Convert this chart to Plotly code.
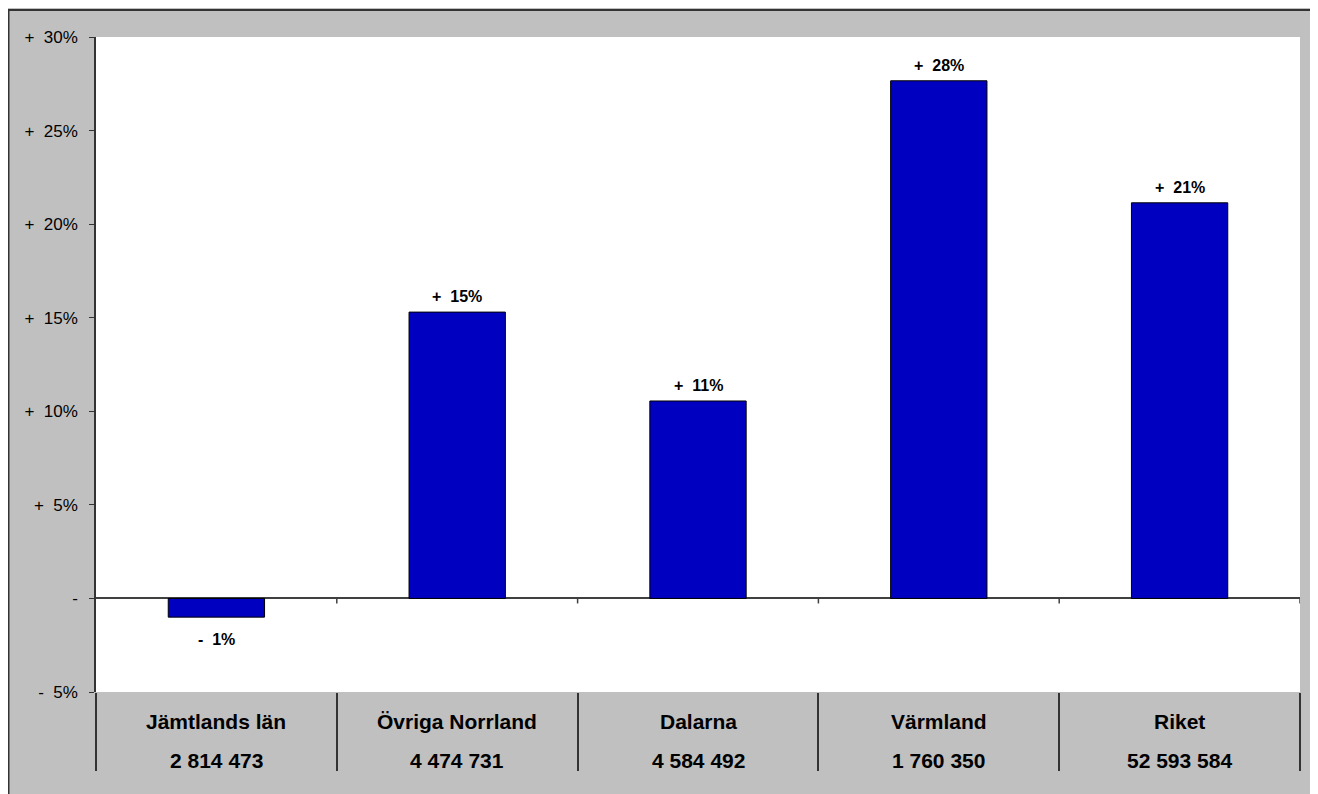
import plotly.graph_objects as go

categories = ["Jämtlands län", "Övriga Norrland", "Dalarna", "Värmland", "Riket"]
populations = ["2 814 473", "4 474 731", "4 584 492", "1 760 350", "52 593 584"]
values = [-1.0, 15.3, 10.55, 27.66, 21.14]
y_ticks = [-5, 0, 5, 10, 15, 20, 25, 30]

NB = "\u00a0"
FONT = "Liberation Sans, Arial"

def pct_label(v):
    r = round(abs(v))
    if r == 0:
        return "-"
    sign = "+" if v > 0 else "-"
    return f"{sign}{NB}{NB}{r}%"

n = len(categories)
xs = list(range(n))

fig = go.Figure()
fig.add_trace(go.Bar(
    x=xs, y=values, width=0.4,
    marker=dict(color="#0000C0", line=dict(color="#000000", width=1)),
    hoverinfo="skip",
))

annotations = []
for x, v in zip(xs, values):
    annotations.append(dict(
        x=x, y=v, xref="x", yref="y", text=f"<b>{pct_label(v)}</b>",
        showarrow=False, yanchor="bottom" if v >= 0 else "top",
        yshift=5 if v >= 0 else -12,
        font=dict(family=FONT, size=16, color="#000000"),
    ))
for x, c, p in zip(xs, categories, populations):
    annotations.append(dict(
        x=x, y=0, xref="x", yref="paper", text=f"<b>{c}</b>",
        showarrow=False, yanchor="middle", yshift=-29,
        font=dict(family=FONT, size=21, color="#000000"),
    ))
    annotations.append(dict(
        x=x, y=0, xref="x", yref="paper", text=f"<b>{p}</b>",
        showarrow=False, yanchor="middle", yshift=-68,
        font=dict(family=FONT, size=21, color="#000000"),
    ))

shapes = []
# small tick marks on the zero line at category boundaries
for i in range(1, n + 1):
    shapes.append(dict(
        type="line", xref="x", yref="y", ysizemode="pixel", yanchor=0,
        x0=i - 0.5, x1=i - 0.5, y0=0, y1=-5,
        line=dict(color="#404040", width=1.5),
    ))
# outer chart border
shapes.append(dict(
    type="rect", xref="paper", yref="paper", xsizemode="pixel", ysizemode="pixel",
    xanchor=0, yanchor=0,
    x0=-87.5, x1=1217, y0=-300, y1=682,
    line=dict(color="#333333", width=2), fillcolor="rgba(0,0,0,0)",
))

fig.update_layout(
    width=1306, height=786,
    margin=dict(l=88, r=14, t=29, b=102),
    paper_bgcolor="#C0C0C0",
    plot_bgcolor="#FFFFFF",
    showlegend=False,
    font=dict(family=FONT, size=17, color="#000000"),
    xaxis=dict(
        range=[-0.5, n - 0.5],
        tickvals=[i - 0.5 for i in range(n + 1)],
        ticktext=[""] * (n + 1),
        ticks="outside", ticklen=78, tickcolor="#333333", tickwidth=1.5,
        showline=False, showgrid=False, zeroline=False, fixedrange=True,
    ),
    yaxis=dict(
        range=[-5, 30],
        tickvals=y_ticks,
        ticktext=[pct_label(v) for v in y_ticks],
        ticks="outside", ticklen=5, tickcolor="#333333",
        showline=True, linecolor="#333333", linewidth=1.5,
        showgrid=False, zeroline=True, zerolinecolor="#404040", zerolinewidth=1.5,
        tickfont=dict(family=FONT, size=17, color="#000000"),
        ticklabelstandoff=8,
    ),
    annotations=annotations,
    shapes=shapes,
)

fig.write_html("out.html")
